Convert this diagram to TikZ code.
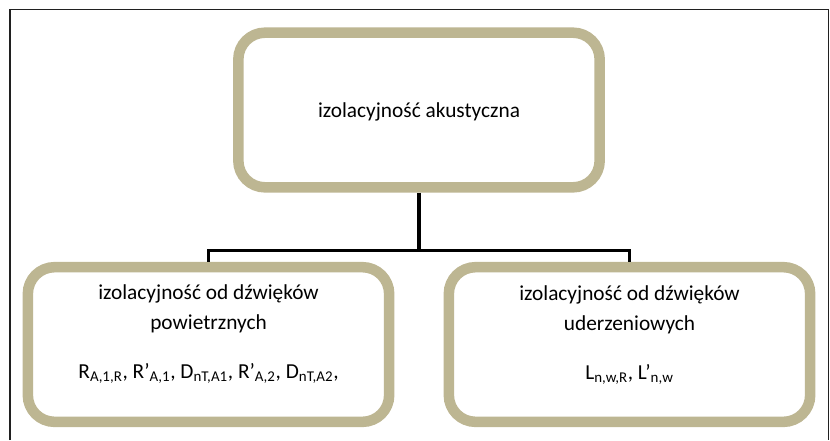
\documentclass[tikz,border=0pt]{standalone}
\usepackage{fontspec}
\setmainfont{Carlito}
\usepackage{xcolor}
\usepackage{tikz}
\usetikzlibrary{positioning}

\definecolor{boxtan}{HTML}{BDB692}
\newcommand{\idx}[1]{\textsubscript{#1}}

\begin{document}
\begin{tikzpicture}[
  x=0.75pt, y=-0.75pt,
  box/.style={draw=boxtan, line width=7.9pt, fill=white,
              rounded corners=20pt, minimum width=271pt,
              minimum height=116pt, inner sep=0pt},
  lbl/.style={align=center, font=\fontsize{16}{22.5}\selectfont},
  conn/.style={line width=2.6pt, black}
]

% ── page frame (open at the bottom) ──
\useasboundingbox (0,0) rectangle (830,440);
\draw[gray!25!black, line width=0.9pt] (10,440) -- (10,9.5) -- (828.5,9.5) -- (828.5,440);

% ── boxes ──
\node[box] (top)   at (419, 110)   {};
\node[box] (left)  at (208.5, 344.5) {};
\node[box] (right) at (629.5, 344.5) {};

% ── texts ──
\node[lbl] (toptxt) at (419, 112) {izolacyjność akustyczna};
\node[lbl] (lefttxt) at (208.5, 334)
     {izolacyjność od dźwięków\\powietrznych\\[14pt]
      R\idx{A,1,R}, R’\idx{A,1}, D\idx{nT,A1}, R’\idx{A,2}, D\idx{nT,A2},};
\node[lbl] (righttxt) at (629.5, 335)
     {izolacyjność od dźwięków\\uderzeniowych\\[14pt]
      L\idx{n,w,R}, L’\idx{n,w}};

% ── tree connector ──
\coordinate (fork) at (419, 250.5);
\draw[conn] (top.south) -- (fork);
\draw[conn] (fork) -| (left.north);
\draw[conn] (fork) -| (right.north);

\end{tikzpicture}
\end{document}
